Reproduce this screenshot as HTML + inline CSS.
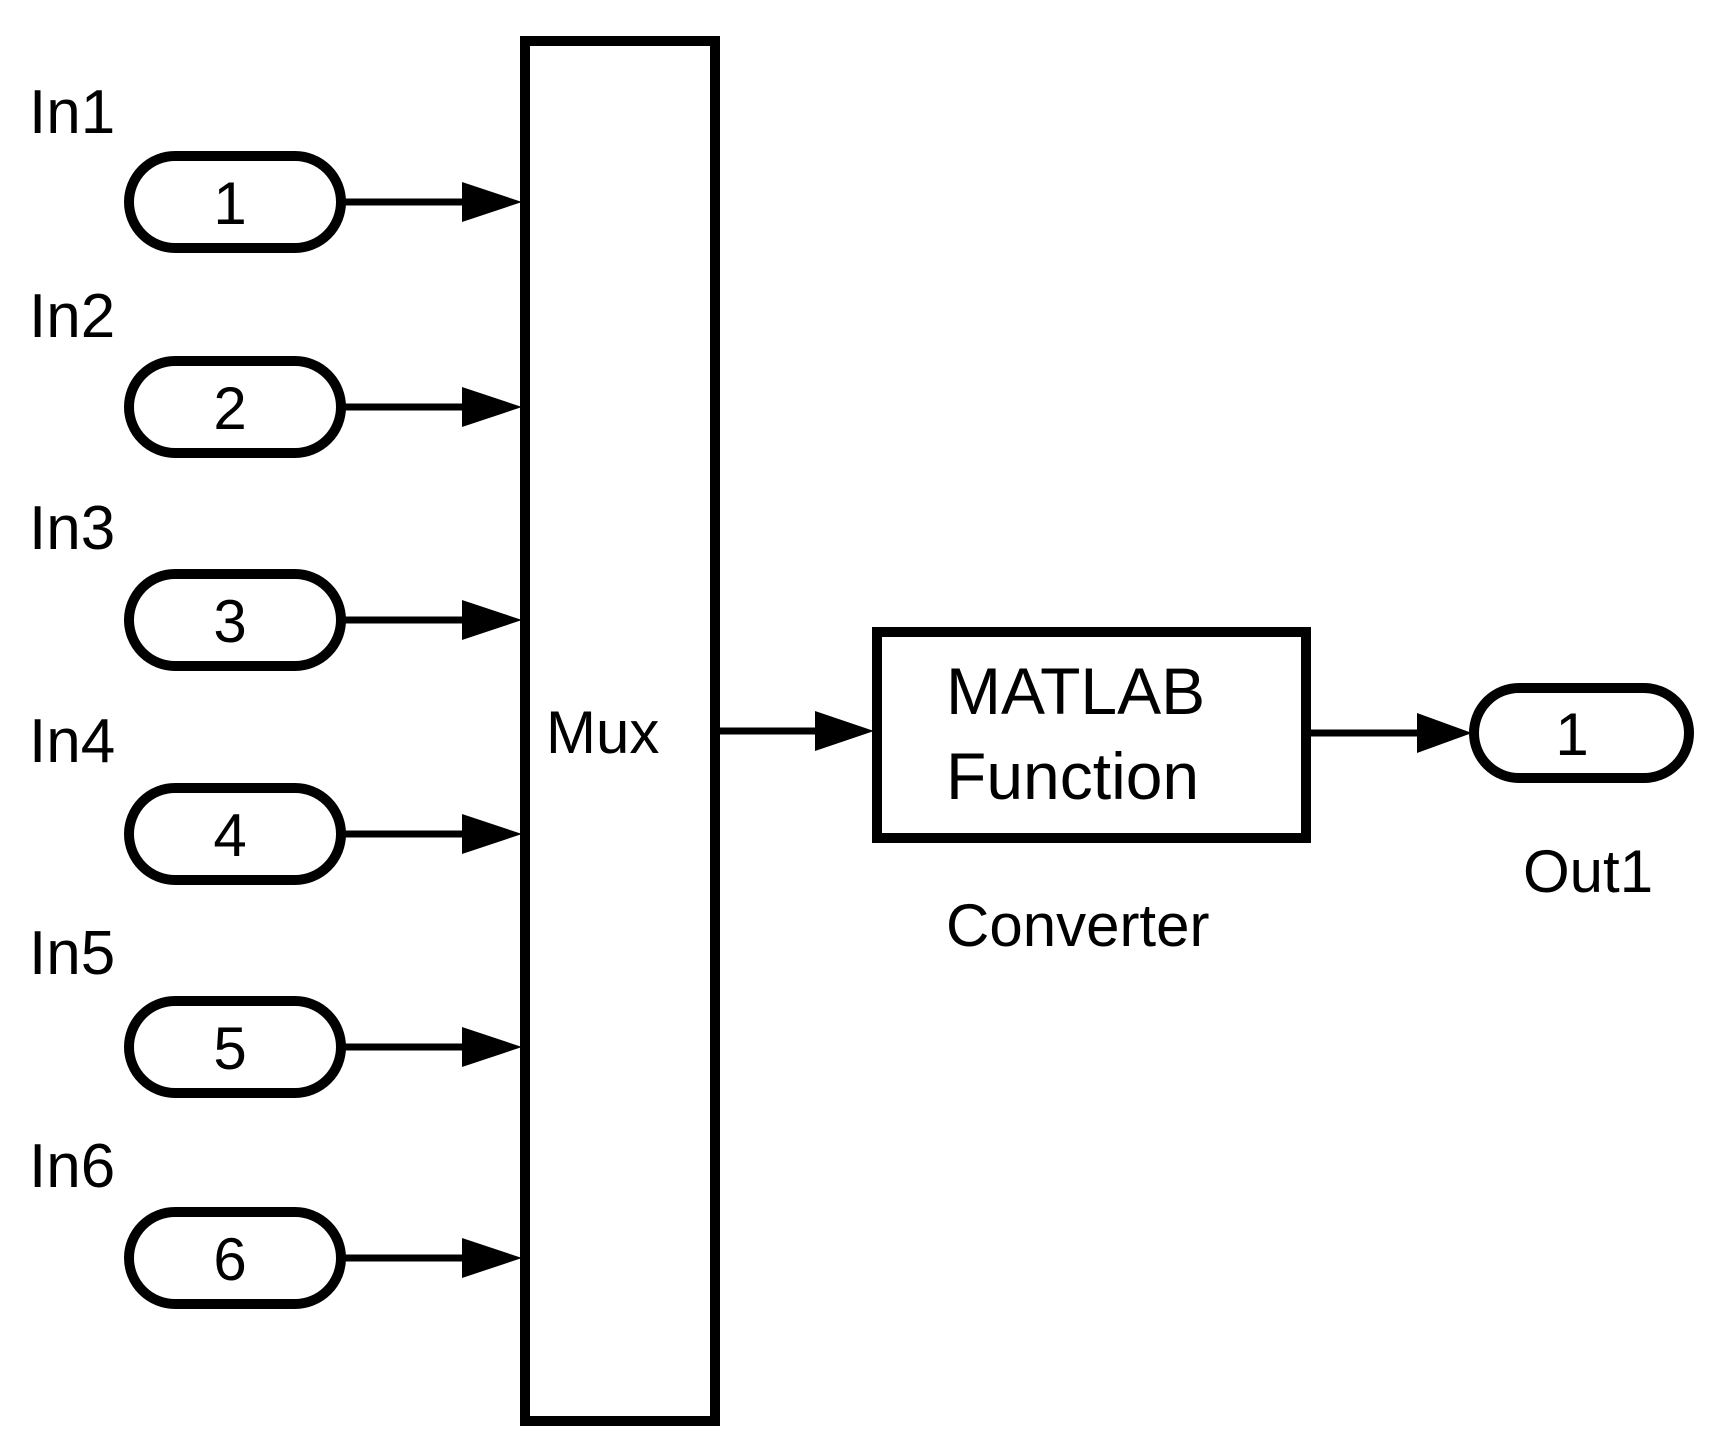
<!DOCTYPE html>
<html><head><style>
html,body{margin:0;padding:0;background:#fff;}
svg{display:block;}
text{font-family:"Liberation Sans",sans-serif;fill:#000;}
</style></head><body>
<svg width="1715" height="1453" viewBox="0 0 1715 1453" xmlns="http://www.w3.org/2000/svg">
<defs>
<g id="p">
<rect x="129" y="-46" width="212" height="92" rx="46" ry="46" fill="#fff" stroke="#000" stroke-width="10"/>
<line x1="345" y1="0" x2="470" y2="0" stroke="#000" stroke-width="7"/>
<polygon points="462,-20 522,0 462,20" fill="#000"/>
</g>
</defs>
<g font-size="62">
<text x="29" y="133">In1</text>
<text x="29" y="337">In2</text>
<text x="29" y="549">In3</text>
<text x="29" y="762">In4</text>
<text x="29" y="974">In5</text>
<text x="29" y="1187">In6</text>
</g>
<use href="#p" y="202"/><use href="#p" y="407"/><use href="#p" y="620"/>
<use href="#p" y="834"/><use href="#p" y="1047"/><use href="#p" y="1258"/>
<g font-size="60" text-anchor="middle">
<text x="230" y="224">1</text><text x="230" y="429">2</text><text x="230" y="642">3</text>
<text x="230" y="856">4</text><text x="230" y="1069">5</text><text x="230" y="1280">6</text>
</g>
<rect x="525" y="41" width="190" height="1380" fill="#fff" stroke="#000" stroke-width="10"/>
<text x="546" y="753" font-size="60">Mux</text>
<line x1="717" y1="731" x2="830" y2="731" stroke="#000" stroke-width="7"/>
<polygon points="815,711 874,731 815,751" fill="#000"/>
<rect x="877" y="632" width="429" height="206" fill="#fff" stroke="#000" stroke-width="10"/>
<text x="946" y="714" font-size="66">MATLAB</text>
<text x="946" y="799" font-size="66">Function</text>
<text x="946" y="946" font-size="60">Converter</text>
<line x1="1311" y1="733" x2="1430" y2="733" stroke="#000" stroke-width="7"/>
<polygon points="1417,713 1472,733 1417,753" fill="#000"/>
<rect x="1474" y="688" width="215" height="90" rx="45" ry="45" fill="#fff" stroke="#000" stroke-width="10"/>
<text x="1572" y="755" font-size="60" text-anchor="middle">1</text>
<text x="1523" y="892" font-size="60">Out1</text>
</svg>
</body></html>
